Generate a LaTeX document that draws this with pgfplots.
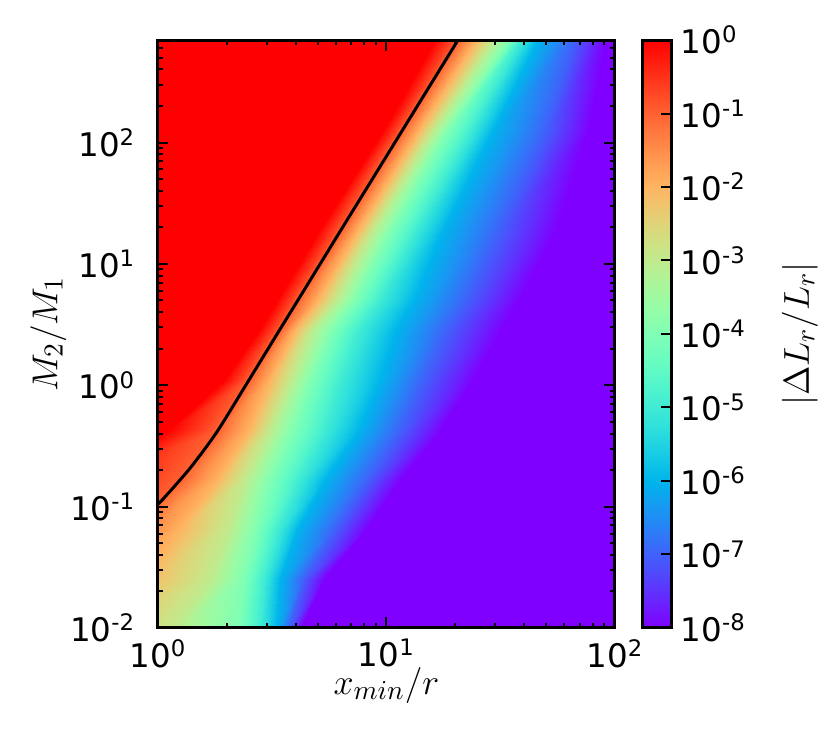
\documentclass[border=0pt]{standalone}
\usepackage{fontspec}
\setmainfont{DejaVu Sans}
\usepackage{pgfplots}
\usepackage{pgfplotstable}
\pgfplotsset{compat=1.18}

% mesh of level positions: each row holds, at one log10(M2/M1), the log10(x_min/r)
% where |dL/L| crosses 10^0, 10^-1, ..., 10^-8 (plus far-left/far-right padding)
\pgfplotstableread[row sep=\\]{
lx lm v\\
-1.5 2.845 0\\ 1.213 2.845 0\\ 1.313 2.845 -1\\ 1.390 2.845 -2\\ 1.468 2.845 -3\\ 1.534 2.845 -4\\ 1.583 2.845 -5\\ 1.662 2.845 -6\\ 1.820 2.845 -7\\ 1.960 2.845 -8\\ 2.5 2.845 -8\\
-1.5 2.087 0\\ 0.979 2.087 0\\ 1.065 2.087 -1\\ 1.139 2.087 -2\\ 1.198 2.087 -3\\ 1.263 2.087 -4\\ 1.365 2.087 -5\\ 1.460 2.087 -6\\ 1.694 2.087 -7\\ 1.883 2.087 -8\\ 2.5 2.087 -8\\
-1.5 1.262 0\\ 0.700 1.262 0\\ 0.795 1.262 -1\\ 0.870 1.262 -2\\ 0.935 1.262 -3\\ 1.015 1.262 -4\\ 1.125 1.262 -5\\ 1.241 1.262 -6\\ 1.489 1.262 -7\\ 1.737 1.262 -8\\ 2.5 1.262 -8\\
-1.5 0.700 0\\ 0.520 0.700 0\\ 0.612 0.700 -1\\ 0.700 0.700 -2\\ 0.780 0.700 -3\\ 0.860 0.700 -4\\ 0.970 0.700 -5\\ 1.120 0.700 -6\\ 1.350 0.700 -7\\ 1.580 0.700 -8\\ 2.5 0.700 -8\\
-1.5 0.455 0\\ 0.440 0.455 0\\ 0.532 0.455 -1\\ 0.600 0.455 -2\\ 0.670 0.455 -3\\ 0.760 0.455 -4\\ 0.880 0.455 -5\\ 1.040 0.455 -6\\ 1.260 0.455 -7\\ 1.500 0.455 -8\\ 2.5 0.455 -8\\
-1.5 0.040 0\\ 0.290 0.040 0\\ 0.397 0.040 -1\\ 0.490 0.040 -2\\ 0.580 0.040 -3\\ 0.670 0.040 -4\\ 0.800 0.040 -5\\ 0.970 0.040 -6\\ 1.160 0.040 -7\\ 1.380 0.040 -8\\ 2.5 0.040 -8\\
-1.5 -0.370 0\\ 0.050 -0.370 0\\ 0.262 -0.370 -1\\ 0.400 -0.370 -2\\ 0.490 -0.370 -3\\ 0.590 -0.370 -4\\ 0.730 -0.370 -5\\ 0.880 -0.370 -6\\ 1.060 -0.370 -7\\ 1.240 -0.370 -8\\ 2.5 -0.370 -8\\
-1.5 -0.780 0\\ -0.300 -0.780 0\\ 0.095 -0.780 -1\\ 0.260 -0.780 -2\\ 0.380 -0.780 -3\\ 0.490 -0.780 -4\\ 0.615 -0.780 -5\\ 0.730 -0.780 -6\\ 0.915 -0.780 -7\\ 1.060 -0.780 -8\\ 2.5 -0.780 -8\\
-1.5 -1.195 0\\ -0.500 -1.195 0\\ -0.130 -1.195 -1\\ 0.090 -1.195 -2\\ 0.310 -1.195 -3\\ 0.430 -1.195 -4\\ 0.525 -1.195 -5\\ 0.610 -1.195 -6\\ 0.770 -1.195 -7\\ 0.910 -1.195 -8\\ 2.5 -1.195 -8\\
-1.5 -1.600 0\\ -0.750 -1.600 0\\ -0.400 -1.600 -1\\ -0.060 -1.600 -2\\ 0.230 -1.600 -3\\ 0.375 -1.600 -4\\ 0.465 -1.600 -5\\ 0.535 -1.600 -6\\ 0.635 -1.600 -7\\ 0.725 -1.600 -8\\ 2.5 -1.600 -8\\
-1.5 -2.000 0\\ -1.000 -2.000 0\\ -0.600 -2.000 -1\\ -0.270 -2.000 -2\\ 0.080 -2.000 -3\\ 0.350 -2.000 -4\\ 0.445 -2.000 -5\\ 0.520 -2.000 -6\\ 0.575 -2.000 -7\\ 0.625 -2.000 -8\\ 2.5 -2.000 -8\\
}\levels

\pgfplotsset{
  colormap={mplrainbow}{
    rgb=(0.5,0,1) rgb=(0.4,0.156,0.997) rgb=(0.3,0.309,0.988) rgb=(0.2,0.454,0.972)
    rgb=(0.1,0.588,0.951) rgb=(0,0.707,0.924) rgb=(0.1,0.809,0.891) rgb=(0.2,0.891,0.853)
    rgb=(0.3,0.951,0.809) rgb=(0.4,0.988,0.760) rgb=(0.5,1,0.707) rgb=(0.6,0.988,0.649)
    rgb=(0.7,0.951,0.588) rgb=(0.8,0.891,0.522) rgb=(0.9,0.809,0.454) rgb=(1,0.707,0.383)
    rgb=(1,0.588,0.309) rgb=(1,0.454,0.233) rgb=(1,0.309,0.156) rgb=(1,0.156,0.078)
    rgb=(1,0,0)
  },
  colorbar shift/.style={xshift=0pt},
}

\begin{document}
\begin{tikzpicture}
\useasboundingbox (-63.2pt,-48.8pt) rectangle (269.6pt,251.2pt);
\begin{axis}[
    at={(0,0)}, anchor=south west,
    scale only axis,
    width=182.8pt, height=235.2pt,
    xmin=0, xmax=2, ymin=-2, ymax=2.845,
    axis on top,
    colormap name=mplrainbow,
    point meta min=-8, point meta max=0,
    xtick={0,1,2},
    xticklabels={10\textsuperscript{0},10\textsuperscript{1},10\textsuperscript{2}},
    minor xtick={0.301,0.477,0.602,0.699,0.778,0.845,0.903,0.954,
                 1.301,1.477,1.602,1.699,1.778,1.845,1.903,1.954},
    ytick={-2,-1,0,1,2},
    yticklabels={10\textsuperscript{-2},10\textsuperscript{-1},10\textsuperscript{0},10\textsuperscript{1},10\textsuperscript{2}},
    minor ytick={-1.699,-1.523,-1.398,-1.301,-1.222,-1.155,-1.097,-1.046,
                 -0.699,-0.523,-0.398,-0.301,-0.222,-0.155,-0.097,-0.046,
                 0.301,0.477,0.602,0.699,0.778,0.845,0.903,0.954,
                 1.301,1.477,1.602,1.699,1.778,1.845,1.903,1.954,
                 2.301,2.477,2.602,2.699,2.778},
    tick align=inside,
    xtick pos=both, ytick pos=both,
    major tick length=4.2pt, minor tick length=1.9pt,
    tick style={black, line width=0.8pt},
    axis line style={line width=1.2pt},
    tick label style={font=\fontsize{13}{15}\selectfont},
    yticklabel style={xshift=-5.5pt},
    xticklabel style={yshift=-1pt},
    xlabel={$x_{min}/r$},
    ylabel={$M_2/M_1$},
    every axis x label/.style={at={(axis description cs:0.5,-0.097)}, anchor=center},
    every axis y label/.style={at={(axis description cs:-0.24,0.5)}, rotate=90, anchor=center},
    label style={font=\fontsize{15}{18}\selectfont},
    colorbar,
    colorbar style={
        at={(parent axis.north east)}, anchor=north west, xshift=11.2pt,
        scale only axis, width=11.6pt, height=235.2pt,
        ytick={-8,-7,-6,-5,-4,-3,-2,-1,0},
        yticklabels={10\textsuperscript{-8},10\textsuperscript{-7},10\textsuperscript{-6},10\textsuperscript{-5},
                     10\textsuperscript{-4},10\textsuperscript{-3},10\textsuperscript{-2},10\textsuperscript{-1},10\textsuperscript{0}},
        ytick pos=right, yticklabel pos=right,
        tick align=inside,
        major tick length=4.2pt,
        tick style={black, line width=0.8pt},
        axis line style={line width=1.2pt},
        tick label style={font=\fontsize{13}{15}\selectfont},
        yticklabel style={xshift=0pt},
        ylabel={$|\Delta L_r/L_r|$},
        every axis y label/.style={at={(axis description cs:5.41,0.5)}, rotate=90, anchor=center},
        label style={font=\fontsize{15}{18}\selectfont},
    },
]
\addplot[surf, shader=interp, mesh/cols=11, point meta=\thisrow{v}]
    table[x=lx, y=lm] {\levels};
% contour |dL/L| = 0.1
\addplot[black, line width=1.2pt, smooth, tension=0.4] coordinates {
    (-0.05,-1.06) (0.009,-0.964) (0.14,-0.684) (0.257,-0.387) (0.384,0.0)
    (0.526,0.437) (0.612,0.70) (0.795,1.262) (1.065,2.087) (1.313,2.845) (1.35,2.96)
};
\end{axis}
\end{tikzpicture}
\end{document}
